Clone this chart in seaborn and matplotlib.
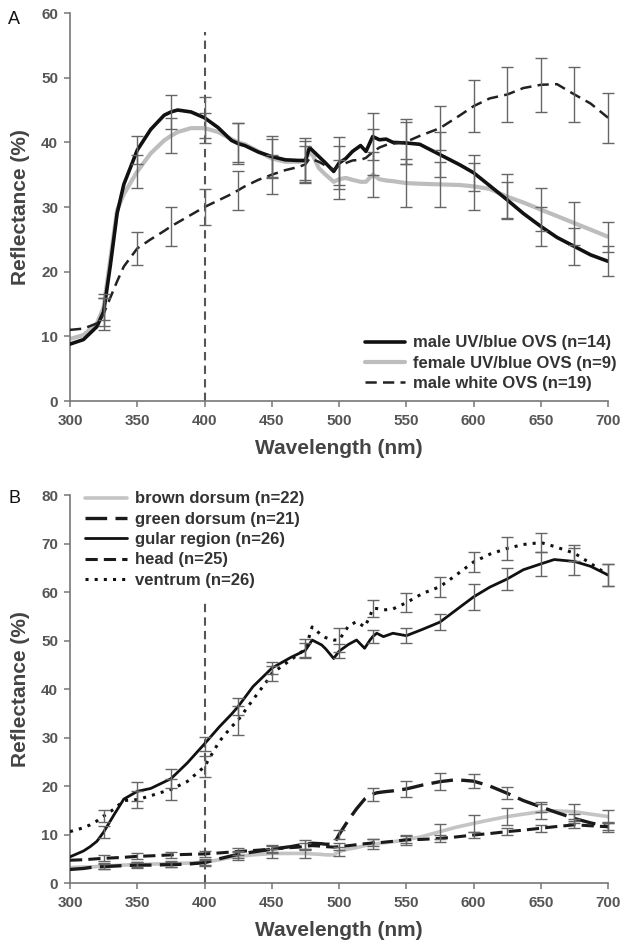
import matplotlib
matplotlib.use("Agg")
import matplotlib.pyplot as plt
import seaborn as sns
import pandas as pd

# ---------------- Panel A data ----------------
wl_a = [300, 310, 320, 325, 330, 335, 340, 350, 360, 370, 375, 380, 390, 400, 410, 420, 425, 430,
        440, 450, 460, 470, 475, 478, 481, 485, 490, 496, 500, 505, 510, 516, 520, 525, 530, 535,
        540, 550, 560, 575, 590, 600, 612, 625, 637, 650, 662, 675, 687, 700]
male_uv = [8.8, 9.5, 11.5, 13.8, 21, 29, 33.5, 38.8, 42, 44.2, 44.7, 45, 44.7, 43.8, 42.3, 40.3, 39.8, 39.5,
           38.5, 37.8, 37.3, 37.2, 37.2, 39.2, 38.6, 37.8, 36.8, 35.5, 36.8, 37.5, 38.6, 39.5, 38.6, 40.9, 40.4, 40.5,
           40.0, 39.9, 39.7, 38.1, 36.5, 35.3, 33.3, 31.1, 29, 27, 25.3, 23.9, 22.6, 21.6]
female_uv = [9.6, 10.2, 12, 14.5, 22, 29.5, 32, 35.5, 38.3, 40.3, 41, 41.6, 42.2, 42.2, 41.6, 40.5, 40, 39.7,
             38.6, 37.5, 37, 37, 37.2, 38.6, 37.8, 36, 35, 33.9, 34.3, 34.5, 34.2, 33.9, 33.9, 35, 34.3, 34.1,
             34.0, 33.7, 33.6, 33.5, 33.4, 33.2, 32.8, 31.6, 30.7, 29.6, 28.6, 27.5, 26.5, 25.4]
male_white = [11, 11.2, 12, 13.5, 16, 18.5, 20.8, 23.6, 25, 26.3, 27, 27.6, 28.8, 30, 31, 32, 32.6, 33.2,
              34.2, 35, 35.7, 36.2, 36.6, 37.5, 37.3, 37, 36.4, 35.8, 36.4, 36.8, 37.2, 37.3, 37.6, 38.5, 39.2, 39.6,
              39.8, 40.1, 41, 42.2, 44.2, 45.6, 46.8, 47.4, 48.4, 48.9, 49, 47.4, 46, 43.8]
err_wl = [325, 350, 375, 400, 425, 450, 475, 500, 525, 550, 575, 600, 625, 650, 675, 700]
err_male_uv = [2.2, 2.2, 2.7, 3.2, 3.2, 3.2, 3.5, 4.0, 3.6, 3.3, 3.5, 2.8, 2.8, 3.0, 2.8, 2.3]
err_female_uv = [2.0, 2.5, 2.7, 2.3, 3.0, 3.0, 3.0, 3.0, 3.5, 3.7, 3.5, 3.6, 3.5, 3.3, 3.3, 2.3]
err_male_white = [2.5, 2.5, 3.0, 2.8, 3.0, 3.0, 2.8, 3.0, 3.5, 3.5, 3.4, 4.0, 4.2, 4.2, 4.2, 3.9]
labels_a = ["male UV/blue OVS (n=14)", "female UV/blue OVS (n=9)", "male white OVS (n=19)"]

# ---------------- Panel B data ----------------
wl_b = [300, 310, 315, 320, 325, 333, 340, 350, 360, 375, 387, 400, 411, 420, 425, 436, 446, 450, 464,
        470, 475, 480, 487, 490, 496, 500, 507, 513, 519, 523, 525, 528, 533, 540, 550, 562, 575, 587, 600,
        612, 625, 637, 650, 660, 675, 687, 700]
brown = [3.2, 3.3, 3.3, 3.4, 3.5, 3.6, 3.7, 3.8, 3.9, 4.0, 4.1, 4.3, 4.8, 5.3, 5.5, 5.8, 6.0, 6.1, 6.1,
         6.1, 6.1, 6.0, 5.9, 5.8, 5.8, 6.5, 7.0, 7.3, 7.7, 7.9, 8.0, 8.1, 8.3, 8.5, 8.9, 9.6, 10.6, 11.5, 12.3,
         13.0, 13.7, 14.2, 14.7, 14.9, 14.7, 14.2, 13.7]
green = [2.8, 3.0, 3.2, 3.3, 3.4, 3.5, 3.6, 3.7, 3.7, 3.8, 3.9, 4.2, 5.0, 5.6, 5.9, 6.4, 6.8, 7.0, 7.5,
         7.8, 8.0, 8.2, 8.1, 8.0, 8.0, 10.0, 13.0, 15.3, 17.3, 18.0, 18.3, 18.6, 18.8, 19.0, 19.4, 20.2, 20.9, 21.3, 21.0,
         20.0, 18.5, 17.0, 15.7, 14.7, 13.3, 12.4, 11.6]
gular = [5.4, 6.6, 7.5, 8.6, 10.5, 14.2, 17.3, 18.9, 19.5, 21.5, 24.7, 28.7, 32.2, 34.8, 36.4, 40.5, 43.2, 44.3, 46.5,
         47.3, 48.0, 50.1, 49.1, 48.3, 46.3, 47.8, 49.2, 50.1, 48.4, 50.1, 50.8, 51.5, 50.8, 51.5, 51.0, 52.3, 53.8, 56.3, 59.0,
         61.0, 62.7, 64.6, 65.8, 66.7, 66.3, 65.3, 63.5]
head = [4.7, 4.8, 4.9, 5.0, 5.1, 5.2, 5.3, 5.5, 5.6, 5.8, 5.9, 6.0, 6.2, 6.4, 6.5, 6.7, 6.9, 7.0, 7.3,
        7.4, 7.6, 7.7, 7.6, 7.5, 7.4, 7.5, 7.7, 7.9, 8.1, 8.2, 8.3, 8.3, 8.4, 8.6, 8.9, 9.0, 9.2, 9.5, 9.9,
        10.2, 10.6, 10.9, 11.3, 11.6, 12.0, 11.8, 11.6]
ventrum = [10.6, 11.4, 12.0, 12.8, 13.8, 15.3, 17.0, 17.2, 18.0, 19.3, 20.9, 24.0, 29.2, 32.2, 33.6, 37.8, 41.5, 43.2, 46.0,
           47.2, 48.3, 52.8, 51.1, 50.6, 50.1, 50.1, 53.0, 53.9, 52.8, 55.0, 56.6, 56.6, 56.3, 56.5, 57.8, 59.7, 61.1, 63.5, 66.2,
           67.8, 69.0, 69.8, 70.2, 69.4, 68.0, 65.9, 63.5]
err_brown = [0.6, 0.6, 0.6, 0.6, 0.8, 0.9, 0.9, 1.0, 1.0, 1.0, 1.5, 1.7, 1.7, 1.5, 1.5, 1.3]
err_green = [0.6, 0.6, 0.6, 0.6, 0.8, 0.9, 0.9, 1.0, 1.3, 1.6, 1.7, 1.5, 1.2, 1.0, 1.0, 1.0]
err_gular = [1.3, 2.0, 2.0, 1.5, 1.7, 1.2, 1.4, 1.5, 1.4, 1.5, 1.7, 2.7, 2.3, 2.5, 2.8, 2.3]
err_head = [0.6, 0.6, 0.6, 0.6, 0.7, 0.7, 0.7, 0.7, 0.7, 0.7, 0.7, 0.7, 0.7, 0.7, 0.7, 0.7]
err_ventrum = [1.3, 1.8, 2.2, 2.1, 3.0, 1.6, 2.0, 2.4, 1.7, 2.0, 2.1, 2.1, 2.4, 1.9, 1.7, 2.3]
labels_b = ["brown dorsum (n=22)", "green dorsum (n=21)", "gular region (n=26)", "head (n=25)", "ventrum (n=26)"]

xticks = [300, 350, 400, 450, 500, 550, 600, 650, 700]

# ---------------- Style ----------------
sns.set_style("ticks")
plt.rcParams["font.family"] = ["Liberation Sans", "DejaVu Sans"]
plt.rcParams["font.weight"] = "bold"

AXC = "#777777"
TXT = "#444444"
ERRC = "#666666"

fig = plt.figure(figsize=(6.25, 9.44), dpi=100)
axA = fig.add_axes([0.112, 0.5752, 0.861, 0.411])
axB = fig.add_axes([0.112, 0.0646, 0.861, 0.411])


def style_axes(ax, ymax):
    ax.set_xlim(300, 700)
    ax.set_ylim(0, ymax)
    ax.set_xticks(xticks)
    ax.set_yticks(list(range(0, ymax + 1, 10)))
    sns.despine(ax=ax)
    for s in ("left", "bottom"):
        ax.spines[s].set_color(AXC)
        ax.spines[s].set_linewidth(1.2)
    ax.tick_params(axis="both", direction="out", length=4.5, width=1.1, color=AXC,
                   labelsize=11, labelcolor="#555555")
    ax.tick_params(axis="x", pad=5)
    ax.tick_params(axis="y", pad=4)
    for lab in ax.get_xticklabels() + ax.get_yticklabels():
        lab.set_fontweight("bold")
    ax.set_xlabel("Wavelength (nm)", fontsize=15, fontweight="bold", color=TXT, labelpad=8)
    ax.set_ylabel("Reflectance (%)", fontsize=15, fontweight="bold", color=TXT, labelpad=8)


def add_err(ax, wl, vals, errs, lw=1.0):
    lookup = dict(zip(wl, vals))
    ys = [lookup[w] for w in err_wl]
    cont = ax.errorbar(err_wl, ys, yerr=errs, fmt="none", ecolor=ERRC, elinewidth=lw,
                       capsize=4, capthick=lw, zorder=4)
    for art in list(cont.lines[1]) + list(cont.lines[2]):
        art.set_clip_on(False)


# ---------------- Panel A ----------------
dfA = pd.DataFrame({"wl": wl_a, "mu": male_uv, "fu": female_uv, "mw": male_white})
sns.lineplot(data=dfA, x="wl", y="mu", ax=axA, color="#111111", lw=2.6, label=labels_a[0], zorder=3, sort=False)
sns.lineplot(data=dfA, x="wl", y="fu", ax=axA, color="#bdbdbd", lw=3.0, label=labels_a[1], zorder=2, sort=False)
sns.lineplot(data=dfA, x="wl", y="mw", ax=axA, color="#222222", lw=1.8, linestyle=(0, (4.5, 2.5)),
             label=labels_a[2], zorder=3, sort=False)
add_err(axA, wl_a, male_uv, err_male_uv)
add_err(axA, wl_a, female_uv, err_female_uv)
add_err(axA, wl_a, male_white, err_male_white)
axA.axvline(400, ymin=0, ymax=57 / 60, color="#555555", lw=1.5, linestyle=(0, (4, 2.5)), zorder=1)
style_axes(axA, 60)
legA = axA.legend(loc="lower right", bbox_to_anchor=(1.035, 0.0), frameon=False, fontsize=12,
                  handlelength=2.4, labelspacing=0.32, handletextpad=0.5, borderaxespad=0.2)
for t in legA.get_texts():
    t.set_color("#333333")
    t.set_fontweight("bold")

# ---------------- Panel B ----------------
dfB = pd.DataFrame({"wl": wl_b, "brown": brown, "green": green, "gular": gular, "head": head, "ventrum": ventrum})
sns.lineplot(data=dfB, x="wl", y="brown", ax=axB, color="#c4c4c4", lw=2.6, label=labels_b[0], zorder=2, sort=False)
sns.lineplot(data=dfB, x="wl", y="green", ax=axB, color="#1a1a1a", lw=2.4, linestyle=(0, (6.5, 2.5)),
             label=labels_b[1], zorder=3, sort=False)
sns.lineplot(data=dfB, x="wl", y="gular", ax=axB, color="#111111", lw=2.0, label=labels_b[2], zorder=3, sort=False)
sns.lineplot(data=dfB, x="wl", y="head", ax=axB, color="#1a1a1a", lw=2.2, linestyle=(0, (4, 2)),
             label=labels_b[3], zorder=3, sort=False)
sns.lineplot(data=dfB, x="wl", y="ventrum", ax=axB, color="#111111", lw=2.2, linestyle=(0, (1, 2)),
             label=labels_b[4], zorder=3, sort=False)
add_err(axB, wl_b, brown, err_brown)
add_err(axB, wl_b, green, err_green)
add_err(axB, wl_b, gular, err_gular)
add_err(axB, wl_b, head, err_head)
add_err(axB, wl_b, ventrum, err_ventrum)
axB.axvline(400, ymin=0, ymax=58 / 80, color="#555555", lw=1.5, linestyle=(0, (4, 2.5)), zorder=1)
style_axes(axB, 80)
legB = axB.legend(loc="upper left", bbox_to_anchor=(0.01, 1.035), frameon=False, fontsize=12,
                  handlelength=2.5, labelspacing=0.32, handletextpad=0.45, borderaxespad=0.2)
for t in legB.get_texts():
    t.set_color("#333333")
    t.set_fontweight("bold")

fig.text(0.013, 0.988, "A", fontsize=13, fontweight="normal", color="#111111", va="top")
fig.text(0.013, 0.481, "B", fontsize=13, fontweight="normal", color="#111111", va="top")

fig.savefig("out.png", dpi=100)
